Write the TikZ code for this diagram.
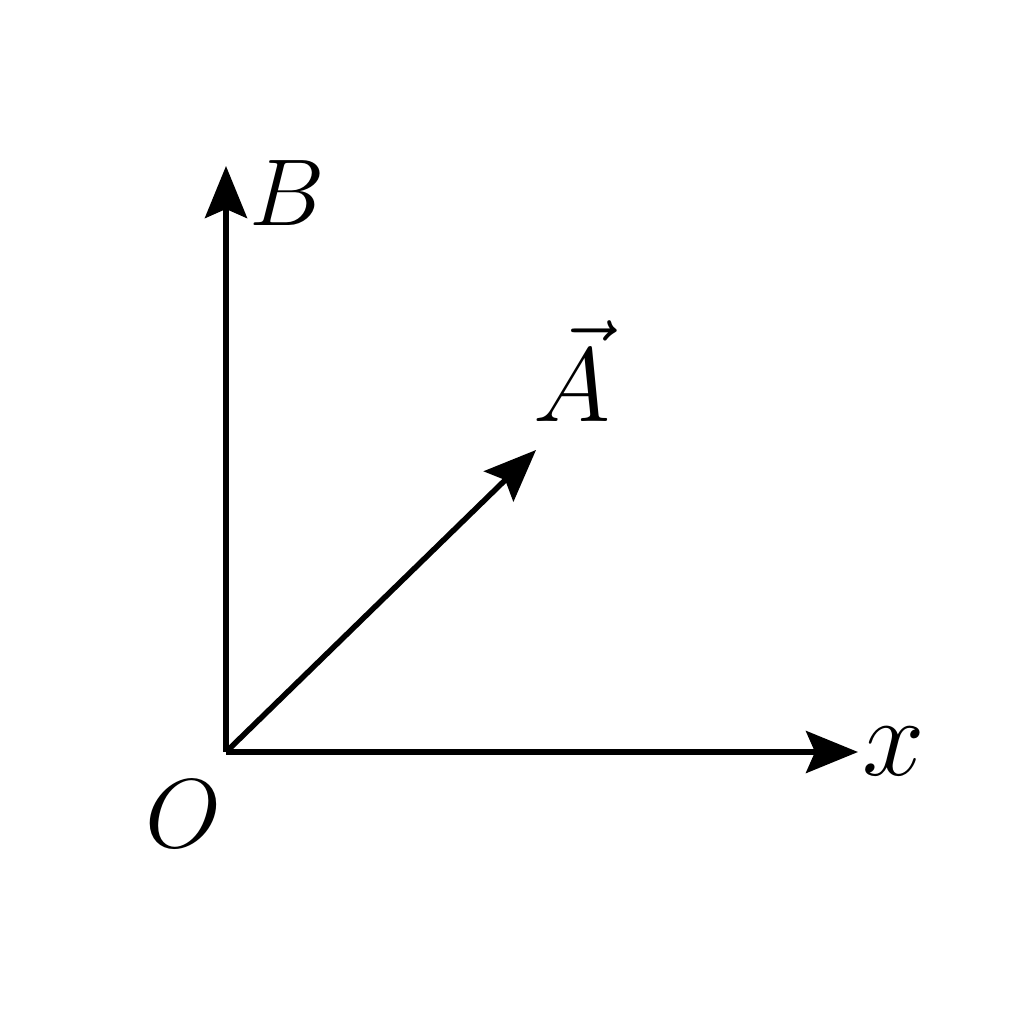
\RequirePackage{fix-cm}
\documentclass[tikz,border=0pt]{standalone}
\usetikzlibrary{arrows.meta}
\begin{document}
\begin{tikzpicture}[x=1pt,y=-1pt,
  axis/.style={line width=5.5pt,-{Stealth[length=52pt,width=42pt,inset=9pt]}},
  lbl/.style={inner sep=0pt,text=black}]
\useasboundingbox (0,0) rectangle (1024,1024);
\fill[white] (0,0) rectangle (1024,1024);
\coordinate (o) at (226,752);
\coordinate (ytip) at (226,166);
\coordinate (xtip) at (858,752);
\coordinate (atip) at (536,450);
\draw[axis] (o) -- (ytip);
\draw[axis] (o) -- (xtip);
\draw[axis] (o) -- (atip);
\node[lbl,font=\fontsize{95}{95}\selectfont] (lb) at (287,193) {$B$};
\node[lbl,font=\fontsize{105}{105}\selectfont] (la) at (572,371) {$\vec{A}$};
\node[lbl,font=\fontsize{112}{112}\selectfont] (lx) at (894,751) {$x$};
\node[lbl,font=\fontsize{98}{98}\selectfont] (lo) at (183,814) {$O$};
\end{tikzpicture}
\end{document}
